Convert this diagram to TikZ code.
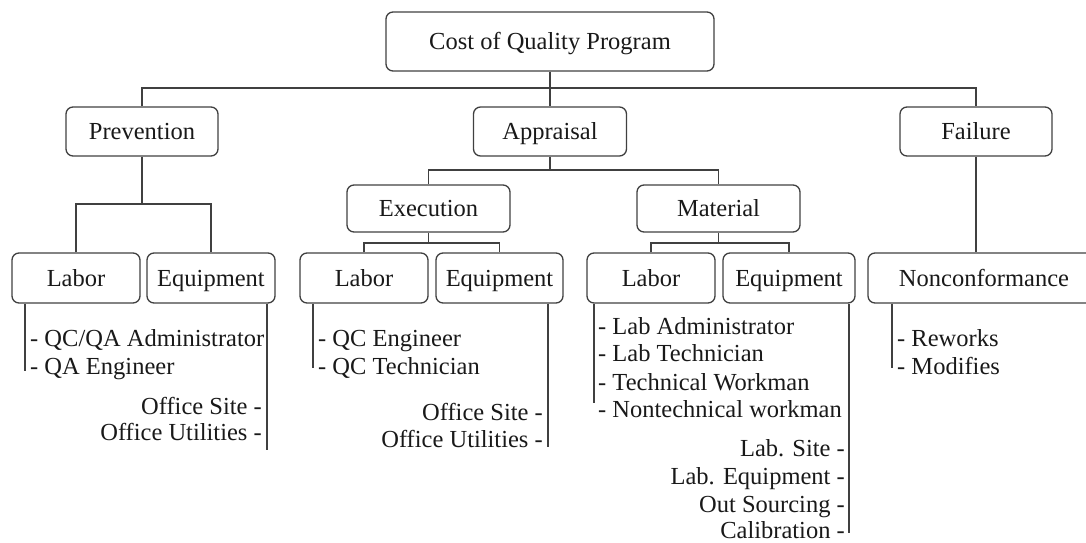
\documentclass[tikz,border=0pt]{standalone}
\usepackage{fontspec}
\setmainfont{Liberation Serif}
\begin{document}
\begin{tikzpicture}[x=1pt,y=-1pt,
  box/.style={draw=black!75, line width=1.3pt, rounded corners=7pt, inner sep=0pt,
    minimum height=50pt, text height=16.5pt, text depth=0pt, text=black!90,
    font=\fontsize{24.5}{28}\selectfont},
  link/.style={draw=black!75, line width=1.3pt},
  item/.style={inner sep=0pt, text=black!90, font=\fontsize{24.5}{28}\selectfont}]
\useasboundingbox (0,0) rectangle (1086,543);
% boxes
\node[box, minimum width=328pt, minimum height=59pt] (root) at (550,41.5) {Cost of Quality Program};
\node[box, minimum width=152pt, minimum height=49pt] (prev) at (142,131.5) {Prevention};
\node[box, minimum width=153pt, minimum height=49pt] (appr) at (550,131.5) {Appraisal};
\node[box, minimum width=152pt, minimum height=49pt] (fail) at (976,131.5) {Failure};
\node[box, minimum width=163pt, minimum height=47pt] (exec) at (428.5,208.5) {Execution};
\node[box, minimum width=163pt, minimum height=47pt] (mat) at (718.5,208.5) {Material};
\node[box, minimum width=128pt] (pl) at (76,278) {Labor};
\node[box, minimum width=128pt] (pe) at (211,278) {Equipment};
\node[box, minimum width=128pt] (el) at (364,278) {Labor};
\node[box, minimum width=127pt] (ee) at (499.5,278) {Equipment};
\node[box, minimum width=128pt] (ml) at (651,278) {Labor};
\node[box, minimum width=132pt] (me) at (789,278) {Equipment};
\node[box, minimum width=232pt] (nc) at (984,278) {Nonconformance};
% tree connectors
\coordinate (b0) at (0,88);
\coordinate (b1) at (0,170);
\coordinate (b2) at (0,204);
\coordinate (b3) at (0,243);
\draw[link] (root.south) -- (appr.north);
\draw[link] (prev.north) -- (prev.north |- b0) -- (fail.north |- b0) -- (fail.north);
\draw[link] (appr.south) -- (appr.south |- b1);
\draw[link] (exec.north) -- (exec.north |- b1) -- (mat.north |- b1) -- (mat.north);
\draw[link] (prev.south) -- (prev.south |- b2);
\draw[link] (pl.north) -- (pl.north |- b2) -- (pe.north |- b2) -- (pe.north);
\draw[link] (exec.south) -- (exec.south |- b3);
\draw[link] (el.north) -- (el.north |- b3) -- (ee.north |- b3) -- (ee.north);
\draw[link] (mat.south) -- (mat.south |- b3);
\draw[link] (ml.north) -- (ml.north |- b3) -- (me.north |- b3) -- (me.north);
\draw[link] (fail.south) -- (fail.south |- nc.north);
% item lines
\coordinate (plend) at (25,371);
\coordinate (peend) at (267,450);
\coordinate (elend) at (313,368);
\coordinate (eeend) at (548,447);
\coordinate (mlend) at (594,403);
\coordinate (meend) at (849,533);
\coordinate (ncend) at (892,368);
\foreach \b/\e in {pl/plend, pe/peend, el/elend, ee/eeend, ml/mlend, me/meend, nc/ncend}
  \draw[link] (\b.south -| \e) -- (\e);
% item texts
\node[item, anchor=base west] (pl1) at (30,346) {- QC/QA Administrator};
\node[item, anchor=base west] (pl2) at (30,374) {- QA Engineer};
\node[item, anchor=base east] (pe1) at (262,414) {Office Site -};
\node[item, anchor=base east] (pe2) at (262,440) {Office Utilities -};
\node[item, anchor=base west] (el1) at (318,346) {- QC Engineer};
\node[item, anchor=base west] (el2) at (318,374) {- QC Technician};
\node[item, anchor=base east] (ee1) at (543,420) {Office Site -};
\node[item, anchor=base east] (ee2) at (543,447) {Office Utilities -};
\node[item, anchor=base west] (ml1) at (598,334) {- Lab Administrator};
\node[item, anchor=base west] (ml2) at (598,361) {- Lab Technician};
\node[item, anchor=base west] (ml3) at (598,390) {- Technical Workman};
\node[item, anchor=base west] (ml4) at (598,417) {- Nontechnical workman};
\node[item, anchor=base east] (me1) at (845,456) {Lab. Site -};
\node[item, anchor=base east] (me2) at (845,484) {Lab. Equipment -};
\node[item, anchor=base east] (me3) at (845,512) {Out Sourcing -};
\node[item, anchor=base east] (me4) at (845,538) {Calibration -};
\node[item, anchor=base west] (nc1) at (897,346) {- Reworks};
\node[item, anchor=base west] (nc2) at (897,374) {- Modifies};
\end{tikzpicture}
\end{document}
